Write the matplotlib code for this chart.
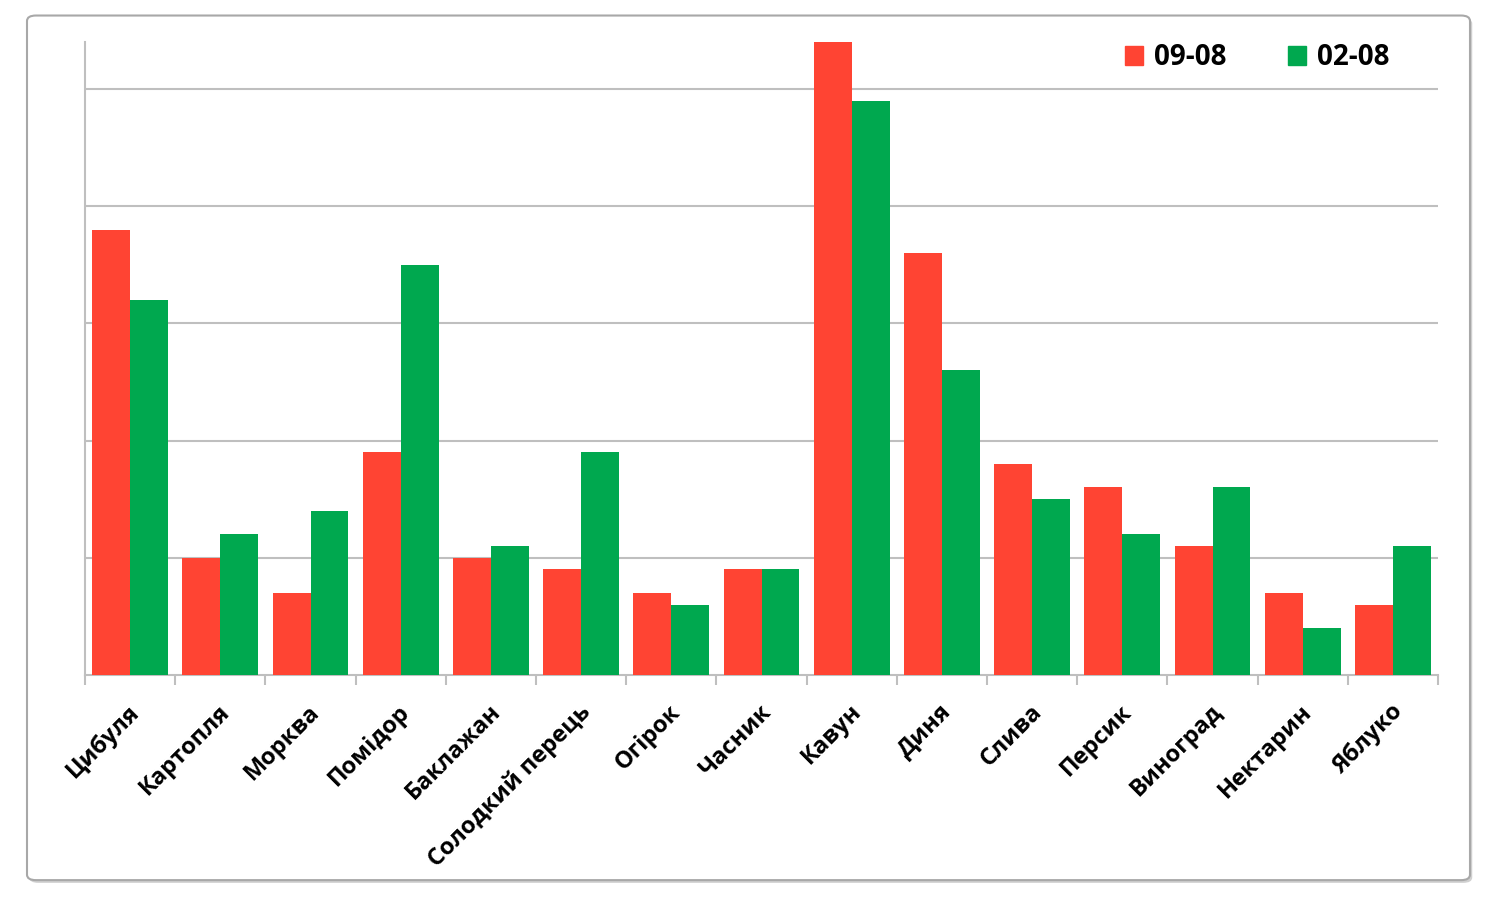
import numpy as np
import matplotlib.pyplot as plt
import matplotlib.transforms as mtransforms
from matplotlib.patches import FancyBboxPatch, Patch

categories = ["Цибуля", "Картопля", "Морква", "Помідор", "Баклажан", "Солодкий перець",
              "Огірок", "Часник", "Кавун", "Диня", "Слива", "Персик", "Виноград",
              "Нектарин", "Яблуко"]
vals_0908 = [38, 10, 7, 19, 10, 9, 7, 9, 54, 36, 18, 16, 11, 7, 6]
vals_0208 = [32, 12, 14, 35, 11, 19, 6, 9, 49, 26, 15, 12, 16, 4, 11]
series_names = ["09-08", "02-08"]

RED = "#FF4433"
GREEN = "#00A84F"
GRAY = "#BFBFBF"
FONT = ["Open Sans", "DejaVu Sans"]

fig = plt.figure(figsize=(15, 9.13), dpi=100)

# outer frame with a soft shadow (drawn behind the axes)
shadow = FancyBboxPatch((0.0195, 0.033), 0.962, 0.947, boxstyle="round,pad=0,rounding_size=0.006",
                        transform=fig.transFigure, facecolor="#d0d0d0", edgecolor="none", zorder=-2)
frame = FancyBboxPatch((0.018, 0.036), 0.962, 0.947, boxstyle="round,pad=0,rounding_size=0.006",
                       transform=fig.transFigure, facecolor="white", edgecolor="#a8a8a8",
                       linewidth=1.5, zorder=-1)
fig.patches.extend([shadow, frame])

ax = fig.add_axes([0.0567, 0.2607, 0.902, 0.6933])
ax.patch.set_alpha(0)

x = np.arange(len(categories))
w = 0.42
ax.bar(x - w / 2, vals_0908, width=w, color=RED, zorder=3)
ax.bar(x + w / 2, vals_0208, width=w, color=GREEN, zorder=3)

ax.set_xlim(-0.5, len(categories) - 0.5)
ax.set_ylim(0, 54)
ax.set_yticks([10, 20, 30, 40, 50])
ax.yaxis.grid(True, color=GRAY, linewidth=1.5, zorder=0)
ax.tick_params(axis="y", length=0, labelleft=False)

ax.set_xticks(x)
ax.set_xticks(np.arange(-0.5, len(categories)), minor=True)
ax.tick_params(axis="x", which="major", length=0, pad=24)
ax.tick_params(axis="x", which="minor", length=7, color=GRAY, width=1.5)
ax.set_xticklabels(categories, rotation=45, ha="right", va="center",
                   rotation_mode="anchor", fontsize=17, fontweight="bold", family=FONT)
# nudge labels a bit to the right, like the original
offset = mtransforms.ScaledTranslation(6 / 100, 0, fig.dpi_scale_trans)
for lbl in ax.get_xticklabels():
    lbl.set_transform(lbl.get_transform() + offset)

for side in ["top", "right"]:
    ax.spines[side].set_visible(False)
for side in ["left", "bottom"]:
    ax.spines[side].set_color(GRAY)
    ax.spines[side].set_linewidth(1.5)

handles = [Patch(color=RED), Patch(color=GREEN)]
ax.legend(handles, series_names, loc="center", bbox_to_anchor=(0.838, 0.937),
          bbox_transform=fig.transFigure, ncol=2, frameon=False,
          handlelength=0.65, handleheight=0.65, handletextpad=0.4, columnspacing=2.2,
          prop={"family": FONT, "weight": "bold", "size": 20})

fig.savefig("out.png", dpi=100)
